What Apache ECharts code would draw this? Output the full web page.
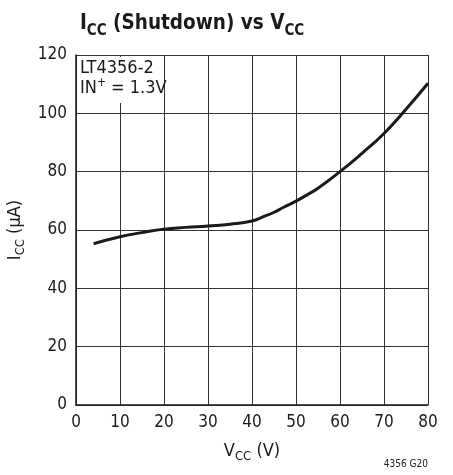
<!DOCTYPE html>
<html><head><meta charset="utf-8">
<script src="https://cdn.jsdelivr.net/npm/echarts@6/dist/echarts.min.js"></script>
<style>html,body{margin:0;padding:0;background:#fff}#c{width:453px;height:475px}</style>
</head><body><div id="c"></div>
<script>
const vcc = [4, 10, 15, 20, 25, 30, 35, 40, 42.6, 44.9, 47.2, 50, 52.9, 55, 60, 65, 70, 75, 80];
const icc = [55.3, 57.7, 59.1, 60.3, 60.9, 61.4, 62.0, 63.1, 64.6, 66.0, 67.8, 69.9, 72.4, 74.3, 80.0, 86.3, 93.1, 101.4, 110.3];
const xTicks = [0, 10, 20, 30, 40, 50, 60, 70, 80];
const yTicks = [0, 20, 40, 60, 80, 100, 120];
const FONT = '"DejaVu Sans Condensed","Liberation Sans Narrow",sans-serif';
const INK = '#1a1a1a';

const chart = echarts.init(document.getElementById('c'), null, {renderer: 'canvas'});
chart.setOption({
  animation: false,
  backgroundColor: '#fff',
  textStyle: {fontFamily: FONT},
  title: {
    text: '{m|I}{s|CC}{m| (Shutdown) vs V}{s|CC}',
    left: 75, top: 4,
    textStyle: {
      rich: {
        m: {fontSize: 20.5, fontWeight: 'bold', fontFamily: FONT, color: INK, lineHeight: 30, verticalAlign: 'middle'},
        s: {fontSize: 15, fontWeight: 'bold', fontFamily: FONT, color: INK, lineHeight: 15, verticalAlign: 'bottom'}
      }
    }
  },
  grid: {left: 76, right: 25, top: 55, bottom: 70, outerBoundsMode: 'none'},
  xAxis: {
    type: 'value', min: 0, max: 80, interval: 10,
    name: '{m|V}{s|CC}{m| (V)}', nameLocation: 'middle', nameGap: 34,
    nameTextStyle: {rich: {
      m: {fontSize: 18, fontFamily: FONT, color: INK, lineHeight: 24, verticalAlign: 'middle'},
      s: {fontSize: 13, fontFamily: FONT, color: INK, lineHeight: 13, verticalAlign: 'bottom'}
    }},
    axisLine: {show: true, onZero: false, lineStyle: {color: INK, width: 1.5}},
    axisTick: {show: false},
    axisLabel: {fontSize: 17, color: INK, margin: 9, fontFamily: FONT,
      formatter: v => xTicks.includes(v) ? String(v) : ''},
    splitLine: {show: true, lineStyle: {color: '#333', width: 1}}
  },
  yAxis: {
    type: 'value', min: 0, max: 120, interval: 20,
    name: '{m|I}{s|CC}{m| (μA)}', nameLocation: 'middle', nameGap: 31, nameRotate: 90,
    nameTextStyle: {rich: {
      m: {fontSize: 18, fontFamily: FONT, color: INK, lineHeight: 24, verticalAlign: 'middle'},
      s: {fontSize: 13, fontFamily: FONT, color: INK, lineHeight: 13, verticalAlign: 'bottom'}
    }},
    axisLine: {show: true, onZero: false, lineStyle: {color: INK, width: 1.5}},
    axisTick: {show: false},
    axisLabel: {fontSize: 17, color: INK, margin: 9, fontFamily: FONT,
      formatter: v => yTicks.includes(v) ? String(v) : ''},
    splitLine: {show: true, lineStyle: {color: '#333', width: 1}}
  },
  graphic: [
    {type: 'rect', left: 79, top: 57, shape: {width: 81, height: 46}, style: {fill: '#fff'}, z: 10},
    {type: 'text', left: 80, top: 59, z: 11,
      style: {text: '{m|LT4356-2}\n{m|IN}{p|+}{m| = 1.3V}', rich: {
        m: {fontSize: 18, fontFamily: FONT, fill: INK, lineHeight: 20, verticalAlign: 'bottom'},
        p: {fontSize: 12, fontFamily: FONT, fill: INK, lineHeight: 20, verticalAlign: 'top'}
      }}},
    {type: 'text', right: 25, top: 459, style: {text: '4356 G20', fontSize: 10, fontFamily: FONT, fill: '#222'}}
  ],
  series: [{
    type: 'line', data: vcc.map((x, i) => [x, icc[i]]), smooth: 0.5, showSymbol: false,
    lineStyle: {color: INK, width: 3}, z: 5
  }]
});
</script></body></html>
